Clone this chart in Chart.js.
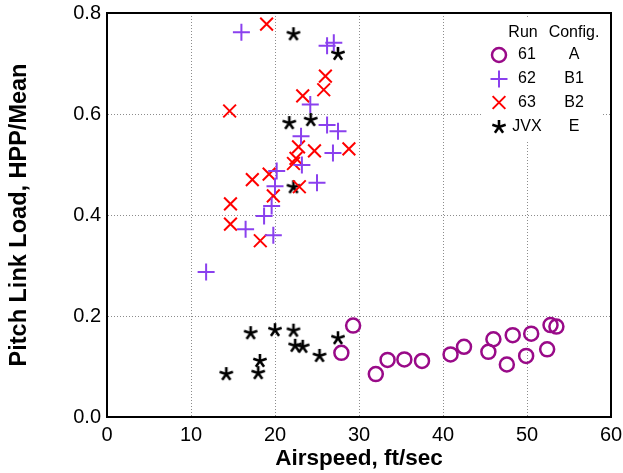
<!DOCTYPE html>
<html><head><meta charset="utf-8">
<script src="https://cdn.jsdelivr.net/npm/chart.js@4/dist/chart.umd.min.js"></script>
<style>html,body{margin:0;padding:0;background:#fff;}</style>
</head><body>
<canvas id="c" width="623" height="473"></canvas>
<script>
// ---- data ----
const run61Speed = [29.3, 27.9, 32.0, 33.4, 35.4, 37.5, 40.9, 42.5, 45.4, 46.0, 47.6, 48.3, 49.9, 50.5, 52.4, 52.8, 53.5];
const run61Load  = [0.181, 0.127, 0.085, 0.113, 0.114, 0.111, 0.124, 0.139, 0.129, 0.154, 0.104, 0.162, 0.121, 0.165, 0.134, 0.182, 0.179];

const run62Speed = [11.8, 16.0, 16.5, 18.7, 19.6, 19.8, 20.0, 20.2, 23.1, 23.2, 24.2, 25.0, 26.2, 26.2, 26.9, 27.0, 27.5];
const run62Load  = [0.287, 0.762, 0.372, 0.398, 0.418, 0.360, 0.457, 0.487, 0.556, 0.499, 0.619, 0.464, 0.735, 0.578, 0.523, 0.741, 0.566];

const run63Speed = [14.6, 14.7, 14.7, 17.3, 18.25, 19.0, 19.3, 19.8, 22.2, 22.5, 22.8, 22.9, 23.3, 24.7, 25.8, 26.0, 28.8];
const run63Load  = [0.606, 0.422, 0.382, 0.470, 0.349, 0.778, 0.481, 0.438, 0.502, 0.512, 0.535, 0.456, 0.636, 0.527, 0.648, 0.675, 0.531];

const jvxSpeed = [14.2, 17.1, 18.0, 18.2, 20.0, 21.7, 22.2, 22.2, 22.2, 22.4, 23.3, 24.25, 25.3, 27.5, 27.5];
const jvxLoad  = [0.085, 0.166, 0.087, 0.111, 0.172, 0.582, 0.758, 0.455, 0.171, 0.141, 0.139, 0.588, 0.121, 0.156, 0.719];

const legendRuns    = ['61', '62', '63', 'JVX'];
const legendConfigs = ['A', 'B1', 'B2', 'E'];
const xTickValues = [0, 10, 20, 30, 40, 50, 60];
const yTickValues = [0.0, 0.2, 0.4, 0.6, 0.8];

// ---- styles ----
const FONT = "'Liberation Sans', Arial, Helvetica, sans-serif";
const pairs = (xs, ys) => xs.map((x, i) => ({x: x, y: ys[i]}));

function makeStar(size, arm, lw) {
  const cv = document.createElement('canvas');
  cv.width = size; cv.height = size;
  const g = cv.getContext('2d');
  g.strokeStyle = '#000'; g.lineWidth = lw; g.lineCap = 'butt';
  const c = size / 2;
  for (let k = 0; k < 5; k++) {
    const a = -Math.PI / 2 + k * 2 * Math.PI / 5;
    g.beginPath(); g.moveTo(c, c); g.lineTo(c + arm * Math.cos(a), c + arm * Math.sin(a)); g.stroke();
  }
  return cv;
}
const starImg = makeStar(18, 7, 2.6);

const seriesStyles = [
  {pointStyle: 'circle', radius: 7, borderWidth: 2.5, color: '#990a88'},
  {pointStyle: 'cross', radius: 8.5, borderWidth: 2, color: '#8a40ee'},
  {pointStyle: 'crossRot', radius: 9, borderWidth: 2, color: '#ff0000'},
  {pointStyle: starImg, radius: 8, borderWidth: 1, color: '#000000'}
];
const seriesData = [
  pairs(run61Speed, run61Load),
  pairs(run62Speed, run62Load),
  pairs(run63Speed, run63Load),
  pairs(jvxSpeed, jvxLoad)
];

const datasets = seriesData.map((d, i) => ({
  label: legendRuns[i],
  data: d,
  showLine: false,
  pointStyle: seriesStyles[i].pointStyle,
  pointRadius: seriesStyles[i].radius,
  pointHoverRadius: seriesStyles[i].radius,
  pointBorderWidth: seriesStyles[i].borderWidth,
  borderColor: seriesStyles[i].color,
  backgroundColor: 'rgba(0,0,0,0)',
  pointBackgroundColor: 'rgba(0,0,0,0)',
  pointBorderColor: seriesStyles[i].color
}));

const legendAndFrame = {
  id: 'legendAndFrame',
  beforeDatasetsDraw(chart) {
    const a = chart.chartArea, ctx = chart.ctx;
    ctx.save();
    ctx.fillStyle = '#ffffff';
    ctx.fillRect(a.right - 128, a.top + 4, 118, 124);
    ctx.restore();
  },
  afterDatasetsDraw(chart) {
    const a = chart.chartArea, ctx = chart.ctx;
    ctx.save();
    ctx.fillStyle = '#000';
    ctx.font = '16px ' + FONT;
    ctx.textAlign = 'center';
    ctx.textBaseline = 'middle';
    const runX = a.right - 84, cfgX = a.right - 37, mkX = a.right - 112;
    ctx.fillText('Run', runX - 4, a.top + 20);
    ctx.fillText('Config.', cfgX, a.top + 20);
    const rowY = [42, 66, 89.5, 114];
    for (let i = 0; i < legendRuns.length; i++) {
      const y = a.top + rowY[i];
      ctx.fillStyle = '#000';
      ctx.fillText(legendRuns[i], runX, y);
      ctx.fillText(legendConfigs[i], cfgX, y);
      const s = seriesStyles[i];
      ctx.strokeStyle = s.color;
      ctx.fillStyle = 'rgba(0,0,0,0)';
      ctx.lineWidth = s.borderWidth;
      Chart.helpers.drawPoint(ctx, {pointStyle: s.pointStyle, radius: s.radius, rotation: 0, borderWidth: s.borderWidth}, mkX, y);
    }
    ctx.restore();
    // plot frame
    ctx.save();
    ctx.strokeStyle = '#000';
    ctx.lineWidth = 2;
    ctx.strokeRect(a.left, a.top, a.right - a.left, a.bottom - a.top);
    ctx.restore();
  }
};

const gridColor = (edgeTest) => (ctx => (ctx.tick && edgeTest(ctx.tick.value)) ? 'rgba(0,0,0,0)' : '#8c8c8c');

new Chart(document.getElementById('c'), {
  type: 'scatter',
  data: {datasets: datasets},
  plugins: [legendAndFrame],
  options: {
    responsive: false,
    animation: false,
    devicePixelRatio: 1,
    layout: {padding: {top: 13, right: 12, left: 0, bottom: 0}},
    plugins: {legend: {display: false}, tooltip: {enabled: false}},
    scales: {
      x: {
        type: 'linear', min: 0, max: 60,
        afterBuildTicks: s => { s.ticks = xTickValues.map(v => ({value: v})); },
        afterFit: s => { s.height = 56; s.paddingLeft = 0; s.paddingRight = 0; },
        border: {display: true, color: 'rgba(0,0,0,0)', dash: [1, 2]},
        grid: {
          drawTicks: false,
          color: gridColor(v => v === 0 || v === 60),
          lineWidth: 1
        },
        ticks: {color: '#000', padding: 6, font: {family: FONT, size: 20}, maxRotation: 0, autoSkip: false},
        title: {display: true, text: 'Airspeed, ft/sec', color: '#000', font: {family: FONT, size: 22.5, weight: 'bold'}, padding: {top: 0, bottom: 1}}
      },
      y: {
        type: 'linear', min: 0, max: 0.8,
        afterBuildTicks: s => { s.ticks = yTickValues.map(v => ({value: v})); },
        afterFit: s => { s.width = 107; s.paddingTop = 0; s.paddingBottom = 0; },
        border: {display: true, color: 'rgba(0,0,0,0)', dash: [1, 2]},
        grid: {
          drawTicks: false,
          color: gridColor(v => v === 0 || Math.abs(v - 0.8) < 1e-9),
          lineWidth: 1
        },
        ticks: {color: '#000', padding: 6, font: {family: FONT, size: 20}, callback: v => Number(v).toFixed(1)},
        title: {display: true, text: 'Pitch Link Load, HPP/Mean', color: '#000', font: {family: FONT, size: 23.5, weight: 'bold'}, padding: {top: 5, bottom: 0}}
      }
    }
  }
});
</script>
</body></html>
